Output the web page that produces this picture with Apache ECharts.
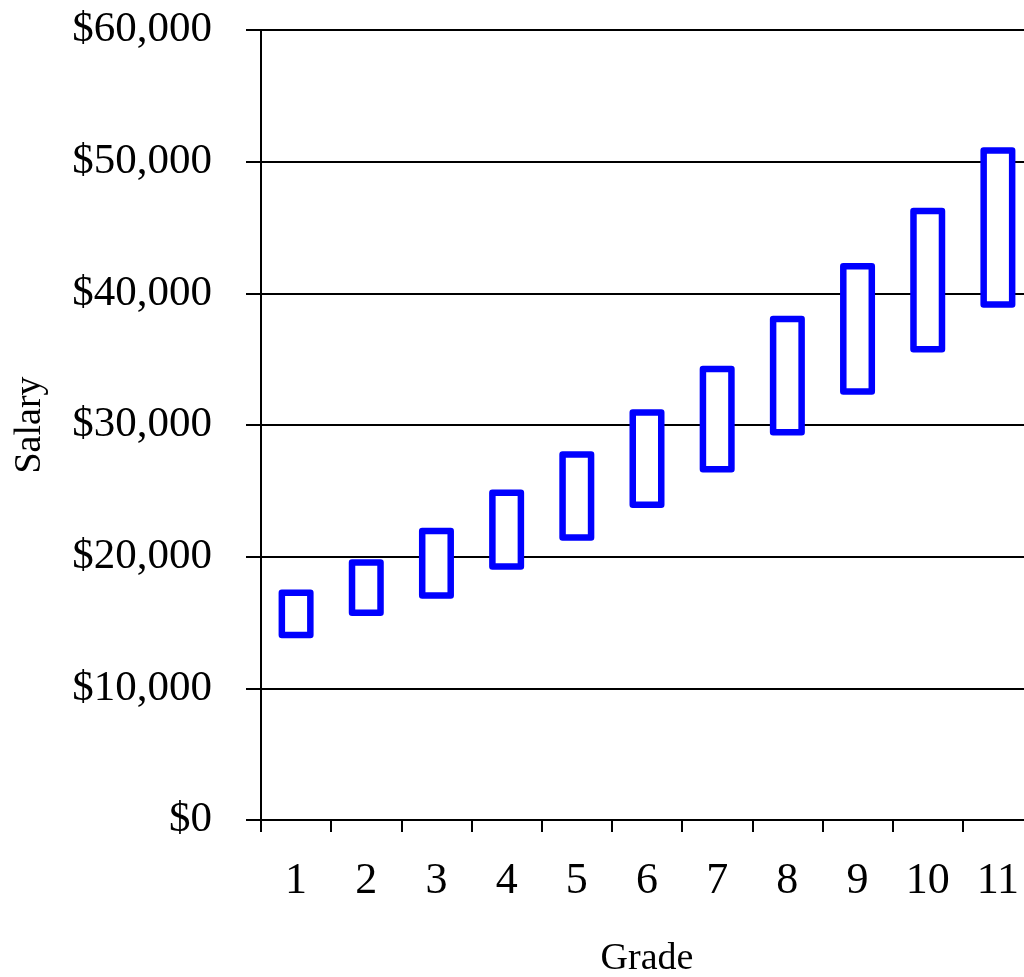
<!DOCTYPE html>
<html>
<head>
<meta charset="utf-8">
<style>
  html, body { margin: 0; padding: 0; background: #ffffff; }
  #chart { width: 1024px; height: 977px; }
</style>
<script src="https://cdn.jsdelivr.net/npm/echarts@6/dist/echarts.min.js"></script>
</head>
<body>
<div id="chart"></div>
<script>
// Salary range for each grade: bottom and top of the range
const grades = ['1', '2', '3', '4', '5', '6', '7', '8', '9', '10', '11'];
const salaryMin = [13800, 15500, 16800, 19000, 21200, 23700, 26400, 29200, 32300, 35500, 38900];
const salaryMax = [17500, 19800, 22200, 25100, 28000, 31200, 34500, 38300, 42300, 46500, 51100];
const yTicks = [0, 10000, 20000, 30000, 40000, 50000, 60000];

const spans = salaryMax.map((v, i) => v - salaryMin[i]);
const fontFamily = '"Liberation Serif", "DejaVu Serif", serif';

const chart = echarts.init(document.getElementById('chart'), null, { renderer: 'canvas' });

chart.setOption({
  animation: false,
  backgroundColor: '#ffffff',
  grid: {
    left: 261, top: 30, width: 772, height: 790,
    containLabel: false,
    outerBoundsMode: 'none'
  },
  xAxis: {
    type: 'category',
    data: grades,
    name: 'Grade',
    nameLocation: 'middle',
    nameGap: 120,
    nameTextStyle: { fontFamily, fontSize: 38, color: '#000' },
    axisLine: { show: true, lineStyle: { color: '#000', width: 2 } },
    axisTick: { show: true, alignWithLabel: false, length: 12, lineStyle: { color: '#000', width: 2 } },
    axisLabel: { fontFamily, fontSize: 44, color: '#000', margin: 39, interval: 0 },
    splitLine: { show: false }
  },
  yAxis: {
    type: 'value',
    min: yTicks[0],
    max: yTicks[yTicks.length - 1],
    interval: 10000,
    name: 'Salary',
    nameLocation: 'middle',
    nameGap: 212,
    nameRotate: 90,
    nameTextStyle: { fontFamily, fontSize: 38, color: '#000' },
    axisLine: { show: true, lineStyle: { color: '#000', width: 2 } },
    axisTick: { show: true, length: 15, lineStyle: { color: '#000', width: 2 } },
    axisLabel: {
      fontFamily, fontSize: 43, color: '#000', margin: 49,
      formatter: v => '$' + v.toLocaleString('en-US')
    },
    splitLine: { show: true, lineStyle: { color: '#000', width: 2 } }
  },
  series: [
    {
      name: 'base',
      type: 'bar',
      stack: 'range',
      data: salaryMin,
      barWidth: 35,
      itemStyle: { color: 'transparent' },
      silent: true
    },
    {
      name: 'range',
      type: 'bar',
      stack: 'range',
      data: spans,
      barWidth: 35,
      itemStyle: {
        color: '#ffffff',
        borderColor: '#0000ff',
        borderWidth: 6.5,
        borderJoin: 'round'
      }
    }
  ]
});
</script>
</body>
</html>
